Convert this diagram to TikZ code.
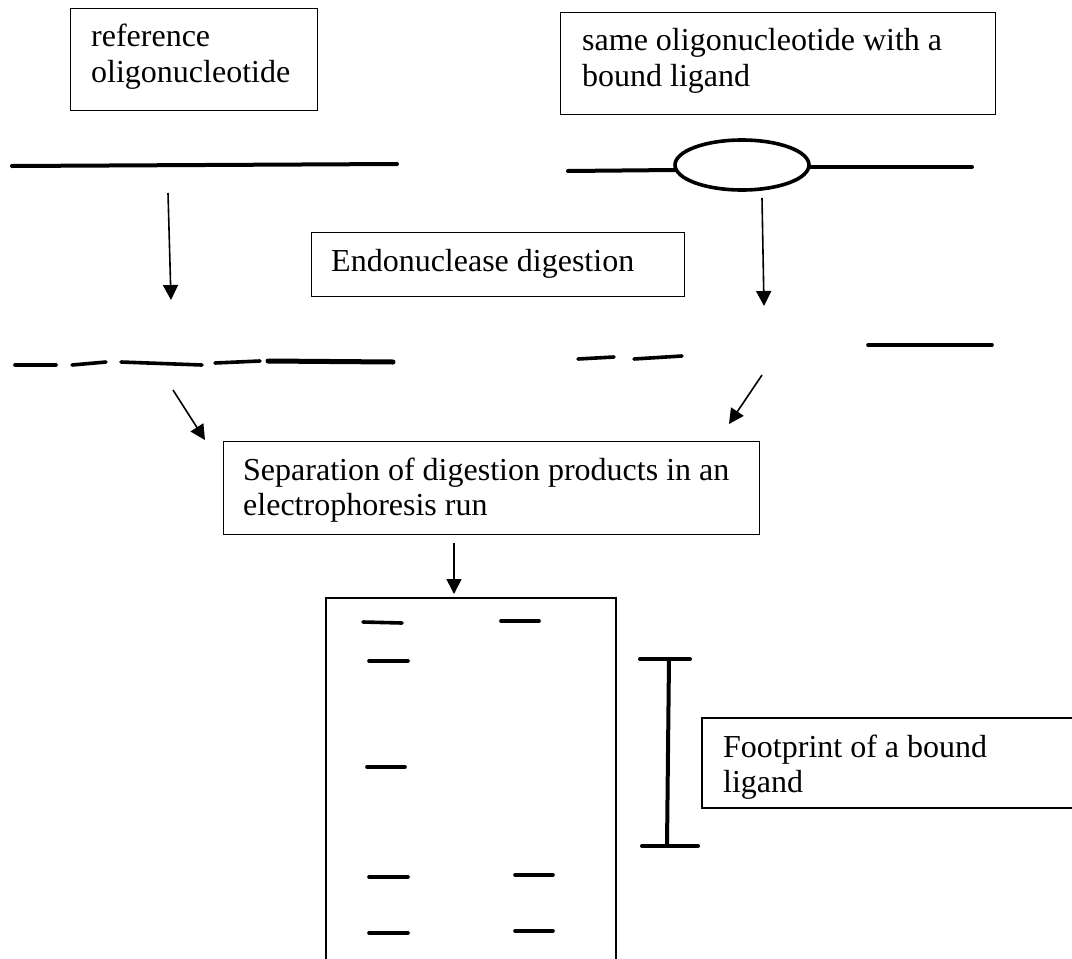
\documentclass[tikz,border=0pt]{standalone}
\usepackage{fontspec}
\setmainfont{Liberation Serif}
\usetikzlibrary{arrows.meta}
\begin{document}
\begin{tikzpicture}[x=1pt,y=-1pt,
  box/.style={draw, line width=1.3pt, inner sep=0pt, anchor=north west},
  txt/.style={anchor=base west, inner sep=0pt, font=\fontsize{32}{37}\selectfont},
  strand/.style={line width=4pt, line cap=round},
  band/.style={line width=3.6pt, line cap=round},
  arr/.style={line width=1.6pt, -{Triangle[width=15pt,length=15pt]}}]
\useasboundingbox (0,0) rectangle (1072,959);
\clip (0,0) rectangle (1072,959);
% boxes
\node[box, minimum width=247pt, minimum height=102pt] (b1) at (70,8) {};
\node[txt] (t1a) at (91,46) {reference};
\node[txt] (t1b) at (91,82) {oligonucleotide};
\node[box, minimum width=435pt, minimum height=102pt] (b2) at (560,12) {};
\node[txt] (t2a) at (582,50) {same oligonucleotide with a};
\node[txt] (t2b) at (582,86) {bound ligand};
\node[box, minimum width=373pt, minimum height=64pt] (b3) at (311,232) {};
\node[txt] (t3) at (331,271) {Endonuclease digestion};
\node[box, minimum width=536pt, minimum height=93pt] (b4) at (223,441) {};
\node[txt] (t4a) at (243,480) {Separation of digestion products in an};
\node[txt] (t4b) at (243,515) {electrophoresis run};
% gel
\draw[line width=1.3pt] (326,975) -- (326,598) -- (616,598) -- (616,975);
% footprint box
\draw[line width=1.3pt] (1090,718) -- (702,718) -- (702,808) -- (1090,808);
\node[txt] (t5a) at (723,757) {Footprint of a bound};
\node[txt] (t5b) at (723,792) {ligand};
% strands
\draw[strand] (12,166) -- (397,164);
\draw[strand] (568,171) -- (675,170);
\draw[line width=3.6pt] (742,165) ellipse [x radius=67, y radius=25];
\draw[strand] (810,167) -- (972,167);
% fragments
\draw[band] (15,365) -- (56,365);
\draw[band] (72,365) -- (106,362);
\draw[band] (121,362) -- (202,365);
\draw[band] (215,363) -- (260,361);
\draw[line width=5pt, line cap=round] (268,361) -- (393,362);
\draw[band] (578,359) -- (614,357);
\draw[band] (634,359) -- (682,356);
\draw[band] (868,345) -- (992,345);
% arrows
\coordinate (a1s) at (168,193); \coordinate (a1e) at (171,300);
\coordinate (a2s) at (762,198); \coordinate (a2e) at (764,306);
\coordinate (a3s) at (173,390); \coordinate (a3e) at (205,440);
\coordinate (a4s) at (762,375); \coordinate (a4e) at (729,424);
\coordinate (a5s) at (454,543); \coordinate (a5e) at (454,594);
\draw[arr] (a1s) -- (a1e);
\draw[arr] (a2s) -- (a2e);
\draw[arr] (a3s) -- (a3e);
\draw[arr] (a4s) -- (a4e);
\draw[arr] (a5s) -- (a5e);
% gel bands
\draw[band] (363,622) -- (402,623);
\draw[band] (369,661) -- (408,661);
\draw[band] (367,767) -- (405,767);
\draw[band] (369,877) -- (408,877);
\draw[band] (369,933) -- (408,933);
\draw[band] (501,621) -- (539,621);
\draw[band] (515,875) -- (553,875);
\draw[band] (515,931) -- (553,931);
% footprint bar
\draw[strand] (640,659) -- (690,659);
\draw[line width=4pt] (669,659) -- (667,846);
\draw[strand] (642,846) -- (698,846);
\end{tikzpicture}
\end{document}
